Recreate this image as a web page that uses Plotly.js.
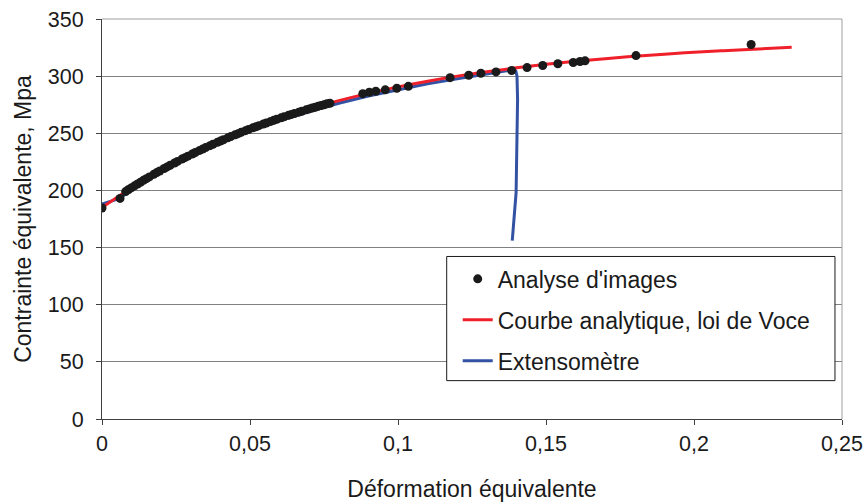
<!DOCTYPE html>
<html>
<head>
<meta charset="utf-8">
<script src="https://cdn.plot.ly/plotly-3.0.1.min.js"></script>
<style>html,body{margin:0;padding:0;background:#fff;}#chart{width:866px;height:502px;}</style>
</head>
<body>
<div id="chart"></div>
<script>
// Analyse d'images (points)
const imgX = [0, 0.0061, 0.0080, 0.0090, 0.0100, 0.0110, 0.0120, 0.013, 0.014, 0.015, 0.016, 0.0175, 0.0185, 0.0195,
  0.021, 0.022, 0.023, 0.0245, 0.0255, 0.027, 0.028, 0.029, 0.0305, 0.0315, 0.033, 0.034, 0.035, 0.0365,
  0.0375, 0.039, 0.040, 0.041, 0.0425, 0.0435, 0.045, 0.046, 0.047, 0.0485, 0.0495, 0.051, 0.052, 0.053,
  0.0545, 0.0555, 0.057, 0.058, 0.059, 0.0605, 0.0615, 0.063, 0.064, 0.065, 0.0665, 0.0675, 0.069, 0.070,
  0.071, 0.072, 0.073, 0.074, 0.075, 0.076, 0.077,
  0.0881, 0.0903, 0.0925, 0.0957, 0.0996, 0.1035, 0.1176, 0.1239, 0.1280, 0.1331, 0.1384, 0.1436,
  0.1489, 0.1540, 0.1592, 0.1615, 0.1632, 0.1804, 0.2193];
const imgY = [184.6, 193.0, 199.0, 200.8, 202.4, 204.0, 205.6, 207.2, 208.8, 210.3, 211.8, 214.1, 215.6, 217.0,
  219.2, 220.6, 222.0, 224.0, 225.4, 227.4, 228.7, 230.0, 231.9, 233.2, 235.0, 236.2, 237.5, 239.2,
  240.4, 242.1, 243.2, 244.3, 246.0, 247.1, 248.7, 249.7, 250.8, 252.3, 253.3, 254.8, 255.7, 256.7,
  258.1, 259.0, 260.4, 261.3, 262.2, 263.5, 264.4, 265.7, 266.5, 267.3, 268.5, 269.3, 270.5, 271.3,
  272.1, 272.8, 273.6, 274.3, 275.0, 275.8, 276.3,
  284.7, 285.9, 286.8, 288.0, 289.4, 291.1, 298.7, 300.8, 302.5, 303.7, 304.9, 307.5,
  309.3, 310.8, 311.9, 312.8, 313.4, 318.0, 327.7];

// Courbe analytique, loi de Voce
const voceX = [0, 0.01, 0.02, 0.03, 0.04, 0.05, 0.06, 0.07, 0.08, 0.09, 0.10, 0.11, 0.12, 0.13, 0.14,
  0.15, 0.16, 0.17, 0.18, 0.19, 0.20, 0.21, 0.22, 0.233];
const voceY = [185, 202.4, 217.7, 231.3, 243.2, 253.8, 263.1, 271.3, 278.6, 284.9, 290.6, 295.6, 300.0,
  303.9, 307.3, 310.4, 313.0, 315.3, 317.4, 319.2, 320.9, 322.3, 323.5, 325.2];

// Extensomètre
const extX = [0, 0.006, 0.01, 0.02, 0.03, 0.04, 0.05, 0.06, 0.07, 0.08, 0.09, 0.10, 0.11, 0.12, 0.13,
  0.136, 0.1386, 0.1398, 0.1402, 0.1404, 0.1403, 0.1399, 0.1386];
const extY = [188, 193, 200.5, 216, 229.5, 241.5, 252, 261, 269, 276.3, 282.6, 288.3, 293.4, 297.8, 301.8,
  304.4, 305.6, 304.6, 300, 280, 250, 198, 156];

const xTicks = [0, 0.05, 0.1, 0.15, 0.2, 0.25];
const xTickText = ['0', '0,05', '0,1', '0,15', '0,2', '0,25'];
const yTicks = [0, 50, 100, 150, 200, 250, 300, 350];

const font = 'Arial, "Liberation Sans", sans-serif';
const ink = '#1a1a1a';

const traces = [
  {x: extX, y: extY, type: 'scatter', mode: 'lines', name: 'Extensomètre',
   line: {color: '#3352a4', width: 3}, legendrank: 3, legendgroup: 'c'},
  {x: voceX, y: voceY, type: 'scatter', mode: 'lines', name: 'Courbe analytique, loi de Voce',
   line: {color: '#f0202a', width: 3, shape: 'spline'}, legendrank: 2, legendgroup: 'b'},
  {x: imgX, y: imgY, type: 'scatter', mode: 'markers', name: "Analyse d'images",
   marker: {color: ink, size: 9}, legendrank: 1, legendgroup: 'a'}
];

const layout = {
  width: 866, height: 502,
  margin: {l: 102, r: 24, t: 19, b: 83},
  paper_bgcolor: '#ffffff', plot_bgcolor: '#ffffff',
  font: {family: font, size: 21.5, color: ink},
  showlegend: true,
  legend: {
    x: 0.4807, y: 0.404, xanchor: 'left', yanchor: 'top',
    bgcolor: 'rgba(0,0,0,0)', borderwidth: 0,
    font: {family: font, size: 23, color: ink},
    traceorder: 'grouped', tracegroupgap: 8
  },
  xaxis: {
    range: [0, 0.25], tickvals: xTicks, ticktext: xTickText, showgrid: false, zeroline: false,
    showline: true, linecolor: '#404040', linewidth: 1,
    ticks: 'outside', ticklen: 5, tickcolor: '#404040',
    tickfont: {family: font, size: 21.5, color: ink},
    title: {text: 'Déformation équivalente', font: {family: font, size: 23, color: ink}, standoff: 30}
  },
  yaxis: {
    range: [0, 350], tickvals: yTicks, showgrid: true, gridcolor: '#808080', gridwidth: 1,
    zeroline: false, showline: true, linecolor: '#404040', linewidth: 1,
    ticks: 'outside', ticklen: 5, tickcolor: '#404040', ticklabelstandoff: 8,
    tickfont: {family: font, size: 21.5, color: ink},
    title: {text: 'Contrainte équivalente, Mpa', font: {family: font, size: 23, color: ink}, standoff: 9}
  },
  shapes: [
    {type: 'line', xref: 'paper', yref: 'paper', x0: 1, x1: 1, y0: 0, y1: 1,
     line: {color: '#a0a0a0', width: 1}},
    {type: 'line', xref: 'paper', yref: 'paper', x0: 0, x1: 1, y0: 1, y1: 1,
     line: {color: '#a0a0a0', width: 1}},
    {type: 'rect', xref: 'paper', yref: 'paper', x0: 0.4658, x1: 0.9905, y0: 0.0959, y1: 0.4063,
     fillcolor: '#ffffff', line: {color: ink, width: 1}, layer: 'above'}
  ]
};

Plotly.newPlot('chart', traces, layout, {displayModeBar: false, staticPlot: true});
</script>
</body>
</html>
